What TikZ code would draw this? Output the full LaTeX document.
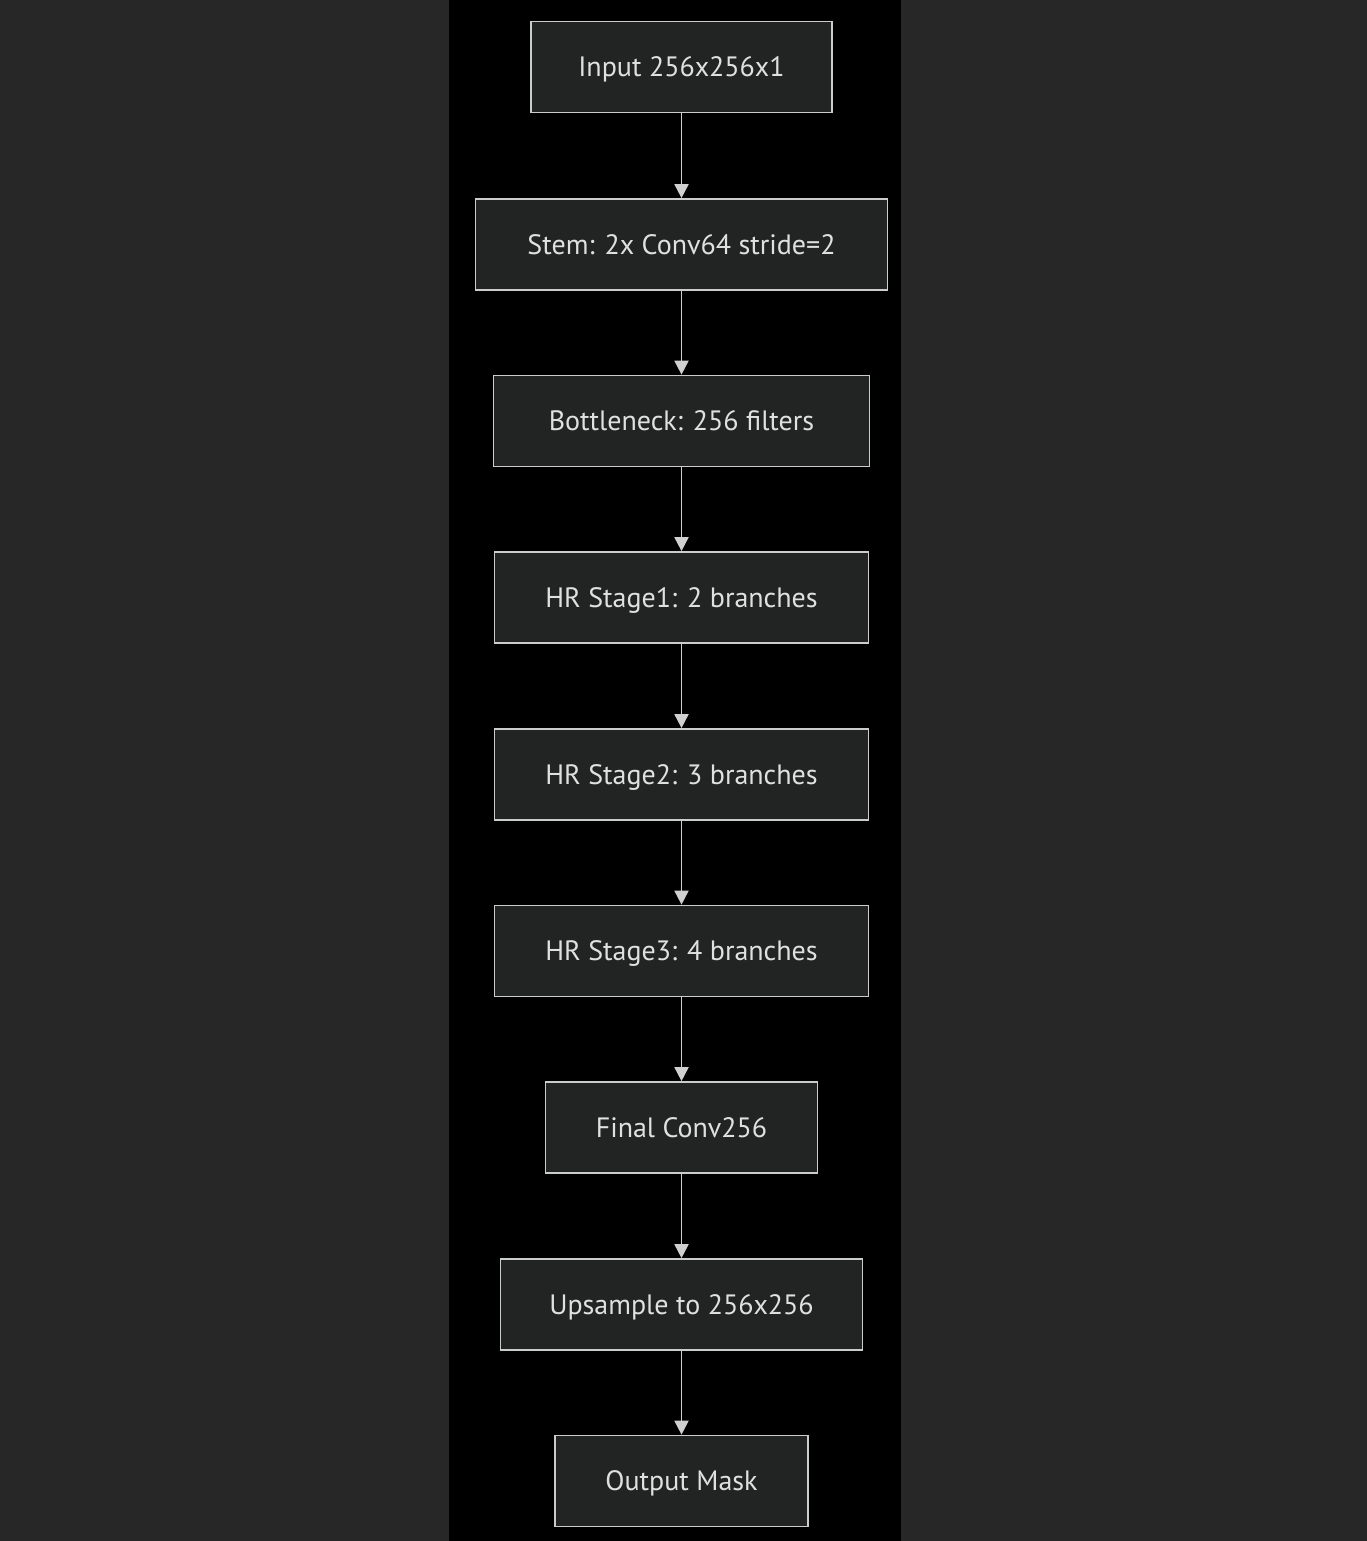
\documentclass[tikz,border=0pt]{standalone}
\usepackage{fontspec}
\setmainfont{PT Sans}
\usetikzlibrary{arrows.meta}
\definecolor{bgc}{HTML}{272727}
\definecolor{colc}{HTML}{000000}
\definecolor{boxfill}{HTML}{222323}
\definecolor{boxline}{HTML}{CCCCCC}
\definecolor{txt}{HTML}{E0E0E0}
\definecolor{arr}{HTML}{D0D0D0}
\begin{document}
\begin{tikzpicture}[x=1pt,y=-1pt,
  blk/.style={draw=boxline, fill=boxfill, line width=1.7pt, text=txt, minimum height=91pt, inner sep=0pt, text height=19.6pt, text depth=0pt, font=\fontsize{28}{32}\selectfont},
  conn/.style={draw=arr, line width=1.8pt, -{Triangle[length=14pt,width=14pt]}}]
\fill[bgc] (0,0) rectangle (1367,1541);
\fill[colc] (449,0) rectangle (901,1541);
\useasboundingbox (0,0) rectangle (1367,1541);
\node[blk, minimum width=301pt] (in) at (681.5,67) {Input 256x256x1};
\node[blk, minimum width=412pt] (stem) at (681.5,244.5) {Stem: 2x Conv64 stride=2};
\node[blk, minimum width=376pt] (bn) at (681.5,421) {Bottleneck: 256 filters};
\node[blk, minimum width=374pt] (s1) at (681.5,597.5) {HR Stage1: 2 branches};
\node[blk, minimum width=374pt] (s2) at (681.5,774.5) {HR Stage2: 3 branches};
\node[blk, minimum width=374pt] (s3) at (681.5,951) {HR Stage3: 4 branches};
\node[blk, minimum width=272pt] (fc) at (681.5,1127.5) {Final Conv256};
\node[blk, minimum width=362pt] (up) at (681.5,1304.5) {Upsample to 256x256};
\node[blk, minimum width=253pt] (out) at (681.5,1481) {Output Mask};
\draw[conn] (in) -- (stem);
\draw[conn] (stem) -- (bn);
\draw[conn] (bn) -- (s1);
\draw[conn] (s1) -- (s2);
\draw[conn] (s2) -- (s3);
\draw[conn] (s3) -- (fc);
\draw[conn] (fc) -- (up);
\draw[conn] (up) -- (out);
\end{tikzpicture}
\end{document}
